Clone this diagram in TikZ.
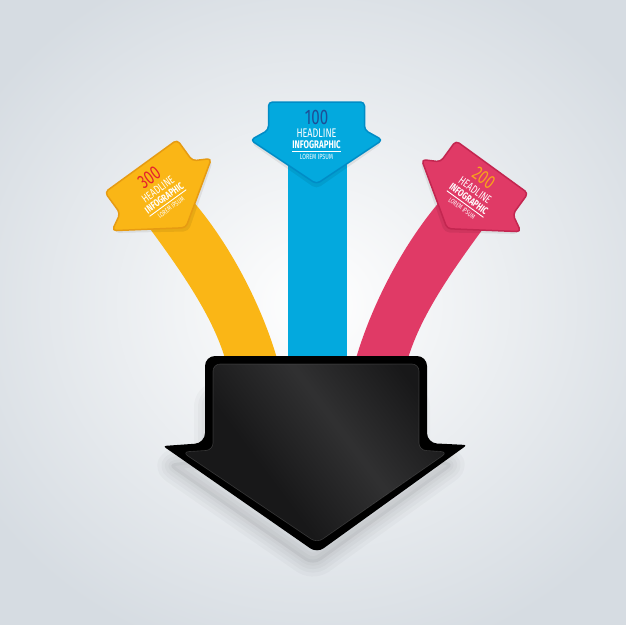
\documentclass[tikz,border=0pt]{standalone}
\usepackage{fontspec}
\newfontfamily\cond[FakeStretch=0.72]{Fira Sans}
\definecolor{bgG}{RGB}{214,220,226}
\definecolor{yel}{RGB}{250,182,22}
\definecolor{yelD}{RGB}{230,155,18}
\definecolor{blu}{RGB}{3,169,222}
\definecolor{bluD}{RGB}{0,140,198}
\definecolor{pnk}{RGB}{224,58,102}
\definecolor{pnkD}{RGB}{195,38,80}
\definecolor{numR}{RGB}{228,36,44}
\definecolor{numB}{RGB}{30,78,150}
\definecolor{numO}{RGB}{248,162,28}
\definecolor{panel}{RGB}{24,24,25}
\tikzset{
  headfill/.style={line width=1.5pt, rounded corners=4pt, line join=round},
  headtxt/.style={inner sep=0pt, anchor=center, text=white},
}
% #1 fill, #2 border, #3 number, #4 number colour, #5 name prefix
\newcommand\infohead[5]{%
  \fill[black,opacity=0.07,rounded corners=5pt] (-48,3) -- (48,3) -- (48,31) -- (66,41) -- (0,87) -- (-66,41) -- (-48,31) -- cycle;
  \filldraw[fill=#1, draw=#2, headfill] (-48,0) -- (48,0) -- (48,28) -- (66,38) -- (0,82) -- (-66,38) -- (-48,28) -- cycle;
  \node[headtxt, text=#4, font=\cond\fontsize{21}{21}\selectfont] (#5num) at (0,15) {#3};
  \node[headtxt, font=\cond\fontsize{12.5}{12.5}\selectfont] (#5head) at (0,31) {HEADLINE};
  \node[headtxt, font=\cond\bfseries\fontsize{11}{11}\selectfont] (#5info) at (0,42.5) {INFOGRAPHIC};
  \draw[white, line width=0.9pt] ([yshift=-2.5pt]#5info.south west) -- ([yshift=-2.5pt]#5info.south east);
  \node[headtxt, font=\cond\fontsize{7.5}{7.5}\selectfont] (#5lorem) at (0,55) {LOREM IPSUM};
}
\begin{document}
\begin{tikzpicture}[x=1pt,y=-1pt]
\useasboundingbox (0,0) rectangle (626,624);
\shade[inner color=white, outer color=bgG] (-80,-60) rectangle (706,670);

% stems
\fill[yel] (145,222) .. controls (182,272) and (214,318) .. (226,362) -- (278,362) .. controls (265,315) and (235,250) .. (192,200) -- cycle;
\fill[pnk] (488,222) .. controls (451,272) and (419,318) .. (407,362) -- (355,362) .. controls (368,315) and (398,250) .. (441,200) -- cycle;
\fill[blu] (288,150) rectangle (347,362);

% soft shadow of black arrow
\foreach \w in {28,20,13,6}{
  \draw[black, opacity=0.025, line width=\w pt, line join=round, rounded corners=10pt, shift={(-4,16)}]
    (212,380) -- (420,380) -- (420,443) -- (460,447) -- (317,550) -- (170,448) -- (212,443) -- cycle;
}
\fill[black, opacity=0.05, rounded corners=10pt, shift={(-4,16)}]
    (212,380) -- (420,380) -- (420,443) -- (460,447) -- (317,550) -- (170,448) -- (212,443) -- cycle;

% black arrow
\fill[black, rounded corners=10pt] (205,356) -- (427,356) -- (427,443) [rounded corners=3pt] -- (467,445) [rounded corners=8pt] -- (317,553) [rounded corners=3pt] -- (163,446) [rounded corners=10pt] -- (205,443) -- cycle;
\begin{scope}
  \clip[rounded corners=7pt] (213,364) -- (419,364) -- (419,450) -- (448,452) -- (317,543) -- (182,452) -- (213,450) -- cycle;
  \fill[panel] (150,340) rectangle (480,560);
  \foreach \i in {1,...,24}{
    \draw[white, opacity=0.009, line width=\i*7 pt] (236,290) -- (466,598);
  }
\end{scope}
\draw[black!60!white, opacity=0.45, line width=0.6pt, rounded corners=7pt] (213,364) -- (419,364) -- (419,450) -- (448,452) -- (317,543) -- (182,452) -- (213,450) -- cycle;

% heads
\begin{scope}[shift={(316.5,102)}, transform shape]
  \infohead{blu}{bluD}{100}{numB}{b}
\end{scope}
\begin{scope}[shift={(141,166)}, rotate=36, scale=0.93, transform shape]
  \infohead{yel}{yelD}{300}{numR}{y}
\end{scope}
\begin{scope}[shift={(492,167)}, rotate=-36, scale=0.93, transform shape]
  \infohead{pnk}{pnkD}{200}{numO}{p}
\end{scope}
\end{tikzpicture}
\end{document}
